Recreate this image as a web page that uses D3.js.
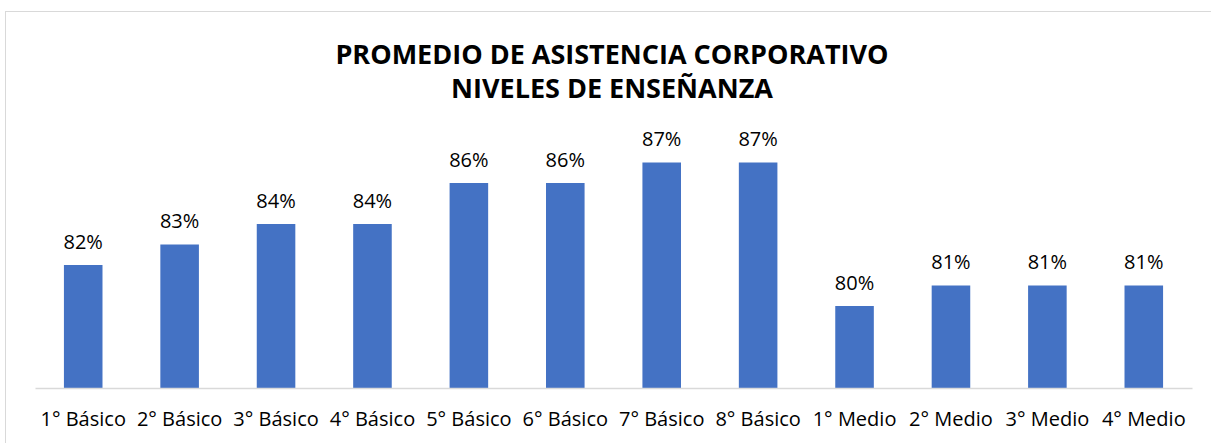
<!DOCTYPE html>
<html>
<head>
    <meta charset="utf-8">
    <script src="https://d3js.org/d3.v7.min.js"></script>
    <style>
        body { margin: 0; background: #fff; }
        text { font-family: "Open Sans", sans-serif; fill: #000; }
    </style>
</head>
<body>
<script type="text/JavaScript">

// data read off the reference
var categories = ["1° Básico", "2° Básico", "3° Básico", "4° Básico", "5° Básico", "6° Básico",
                  "7° Básico", "8° Básico", "1° Medio", "2° Medio", "3° Medio", "4° Medio"];
var asistencia = [0.82, 0.83, 0.84, 0.84, 0.86, 0.86, 0.87, 0.87, 0.80, 0.81, 0.81, 0.81];
var titleLines = ["PROMEDIO DE ASISTENCIA CORPORATIVO", "NIVELES DE ENSEÑANZA"];

var w = 1211; var h = 443;
var svg = d3.select("body").append("svg")
    .attr("width", w)
    .attr("height", h);

// chart frame (right and bottom edges fall outside the picture)
svg.append("rect")
    .attr("x", 5.5).attr("y", 11.5)
    .attr("width", 1230).attr("height", 460)
    .attr("fill", "none")
    .attr("stroke", "#d9d9d9");

var x = d3.scaleBand()
    .domain(categories)
    .range([35, 1192])
    .paddingInner(0.6)
    .paddingOuter(0.3);

var y = d3.scaleLinear()
    .domain([0.76, 0.88])
    .range([388, 142]);

var pct = d3.format(".0%");

svg.selectAll("rect.bar")
    .data(asistencia)
    .enter()
    .append("rect")
    .attr("class", "bar")
    .attr("x", function(d, i) { return x(categories[i]); })
    .attr("y", function(d) { return y(d); })
    .attr("width", x.bandwidth())
    .attr("height", function(d) { return y(0.76) - y(d); })
    .attr("fill", "#4472c4");

svg.selectAll("text.lbl")
    .data(asistencia)
    .enter()
    .append("text")
    .attr("class", "lbl")
    .attr("x", function(d, i) { return x(categories[i]) + x.bandwidth() / 2; })
    .attr("y", function(d) { return y(d) - 16.5; })
    .attr("text-anchor", "middle")
    .style("font-size", "20px")
    .text(function(d) { return pct(d); });

// category axis
var xAxis = svg.append("g")
    .attr("transform", "translate(0,388)")
    .call(d3.axisBottom(x).tickSize(0).tickPadding(0));
xAxis.select(".domain").attr("stroke", "#d9d9d9").attr("stroke-width", 1.5);
xAxis.selectAll("text")
    .attr("y", 38)
    .attr("dy", null)
    .style("font-size", "20px")
    .style("font-family", "'Open Sans', sans-serif")
    .attr("fill", "#000");

svg.selectAll("text.title")
    .data(titleLines)
    .enter()
    .append("text")
    .attr("class", "title")
    .attr("x", 612)
    .attr("y", function(d, i) { return 64 + i * 34; })
    .attr("text-anchor", "middle")
    .style("font-size", "27px")
    .style("font-weight", "bold")
    .text(function(d) { return d; });

</script>
</body>
</html>
